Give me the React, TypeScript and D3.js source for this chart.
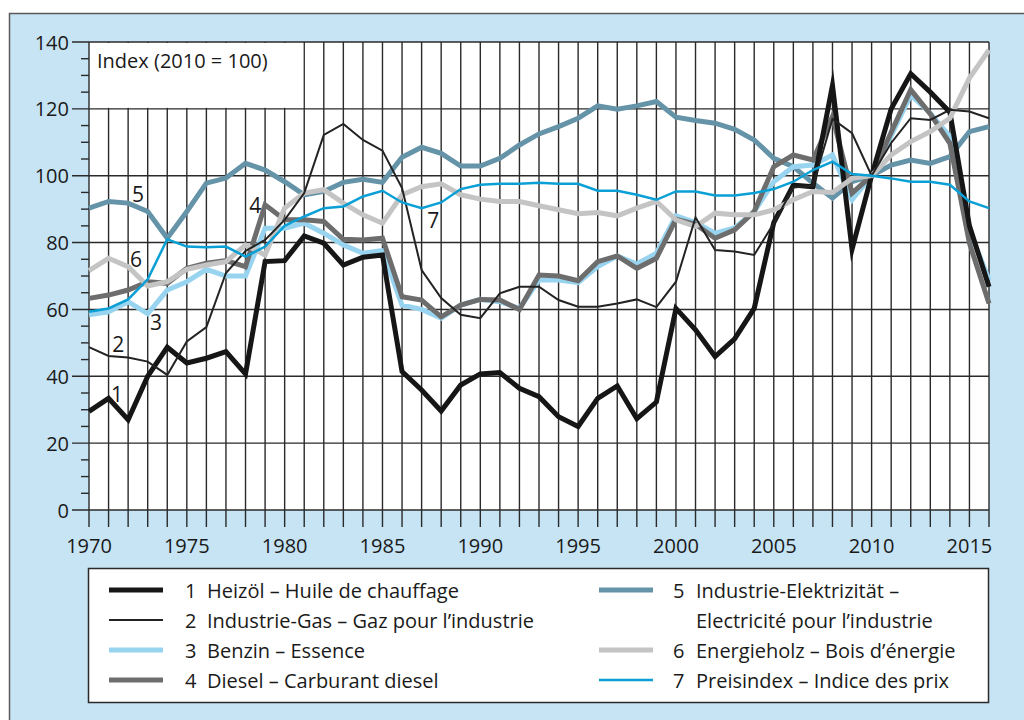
import React from "react";
import * as d3 from "d3";

const years: number[] = d3.range(1970, 2017);

// 1 Heizöl
const heizoel: number[] = [
  29.5, 33.4, 27, 40, 48.7, 44, 45.4, 47.4, 40.7, 74.3,
  74.6, 82, 79.8, 73.3, 75.6, 76.3, 41.4, 35.9, 29.6, 37.4,
  40.7, 41.1, 36.4, 33.9, 27.9, 25, 33.4, 37.1, 27.3, 32.3,
  60.3, 53.9, 45.9, 51.2, 60.3, 86, 97.2, 96.7, 127, 78,
  100, 120, 130.5, 125, 119, 85, 66.8,
];
// 2 Industrie-Gas
const industrieGas: number[] = [
  48.7, 46.1, 45.6, 44.4, 40.4, 50.4, 54.7, 70.9, 77.5, 80.8,
  86.8, 94.8, 112.2, 115.5, 110.7, 107.5, 96.3, 71.8, 63.4, 58.4,
  57.4, 64.8, 66.8, 66.8, 62.8, 60.8, 60.8, 61.8, 63, 60.7,
  68.3, 87.5, 77.8, 77.3, 76.3, 85.8, 96.5, 97, 117, 112.7,
  100, 109.8, 117.2, 116.7, 119.7, 119.2, 117.2,
];
// 3 Benzin
const benzin: number[] = [
  58.4, 59.3, 62.3, 58.7, 65.8, 68.3, 72, 70, 70, 84.3,
  84.3, 85.8, 82.8, 79.3, 76.8, 77.6, 61.3, 60, 57.4, 61.3,
  63, 62.3, 60.3, 68.8, 68.8, 68, 72.8, 76, 73.6, 76.8,
  88, 86, 82.8, 84.4, 89.3, 98.2, 102.7, 103.2, 106.2, 92.8,
  100, 112, 124.2, 118.7, 111.7, 83.8, 68.8,
];
// 4 Diesel
const diesel: number[] = [
  63.3, 64.3, 65.8, 68.3, 67.8, 72.3, 73.8, 74.6, 72.8, 91.3,
  86.8, 86.8, 86.3, 81, 80.8, 81.3, 63.8, 62.8, 57.8, 61.3,
  63, 62.8, 60, 70.3, 70, 68.6, 74.3, 76, 72.3, 75.3,
  87, 85.5, 81.3, 83.8, 89.3, 102.7, 106.2, 104.7, 117.7, 94.8,
  100, 113, 125.7, 118.5, 109.7, 79.8, 61.8,
];
// 5 Industrie-Elektrizität
const elektrizitaet: number[] = [
  90.3, 92.3, 91.8, 89.3, 81.3, 89.3, 97.8, 99.3, 103.7, 101.7,
  98.2, 94.3, 95.3, 98, 98.9, 98, 105.5, 108.5, 106.7, 102.9,
  102.9, 105.2, 109.2, 112.5, 114.7, 117.2, 120.9, 119.9, 120.9, 122.2,
  117.5, 116.5, 115.7, 113.9, 110.7, 105.2, 102.7, 97.8, 93.3, 98.2,
  100, 103.2, 104.7, 103.7, 105.7, 113.2, 114.7,
];
// 6 Energieholz
const energieholz: number[] = [
  71.6, 75.3, 72.8, 67, 68.3, 72, 73.3, 74.3, 79.3, 76.3,
  90.3, 94.8, 95.8, 91.8, 88.3, 85.8, 94.3, 96.7, 97.6, 94.3,
  93, 92.3, 92.3, 91, 89.8, 88.6, 89, 88, 90.3, 92.3,
  86.8, 84.8, 88.8, 88.3, 88.3, 89.8, 92.8, 95.3, 95, 99.2,
  100, 106.2, 110.2, 113.2, 117.2, 129.2, 137.6,
];
// 7 Preisindex
const preisindex: number[] = [
  59.3, 60.3, 63, 69, 81, 78.8, 78.6, 78.8, 75.8, 78.8,
  85, 87.8, 90.3, 90.8, 93.8, 95.5, 92, 90.3, 92, 96,
  97.3, 97.6, 97.6, 97.9, 97.6, 97.6, 95.5, 95.5, 94.3, 92.8,
  95.3, 95.3, 94.1, 94.1, 94.8, 96, 98.2, 101.7, 104.2, 100.5,
  100, 99.2, 98.2, 98.2, 97.3, 92.3, 90.3,
];

const yTicks: number[] = [0, 20, 40, 60, 80, 100, 120, 140];
const xTickLabels: number[] = [1970, 1975, 1980, 1985, 1990, 1995, 2000, 2005, 2010, 2015];

const legendLeft = [
  { num: "1", label: "Heizöl – Huile de chauffage", key: "s1" },
  { num: "2", label: "Industrie-Gas – Gaz pour l’industrie", key: "s2" },
  { num: "3", label: "Benzin – Essence", key: "s3" },
  { num: "4", label: "Diesel – Carburant diesel", key: "s4" },
];
const legendRight = [
  { num: "5", label: "Industrie-Elektrizität –", label2: "Electricité pour l’industrie", key: "s5" },
  { num: "6", label: "Energieholz – Bois d’énergie", key: "s6" },
  { num: "7", label: "Preisindex – Indice des prix", key: "s7" },
];

const styles: Record<string, { color: string; width: number }> = {
  s1: { color: "#161616", width: 5 },
  s2: { color: "#232323", width: 2 },
  s3: { color: "#98d4ef", width: 5 },
  s4: { color: "#6d6d6d", width: 5 },
  s5: { color: "#6593a8", width: 5 },
  s6: { color: "#c4c4c4", width: 5 },
  s7: { color: "#0aa0d6", width: 2.5 },
};

const seriesData: Record<string, number[]> = {
  s1: heizoel,
  s2: industrieGas,
  s3: benzin,
  s4: diesel,
  s5: elektrizitaet,
  s6: energieholz,
  s7: preisindex,
};

const drawOrder = ["s5", "s3", "s4", "s1", "s6", "s2", "s7"];

const inlineLabels = [
  { t: "1", year: 1971.43, v: 34.7 },
  { t: "2", year: 1971.5, v: 49.7 },
  { t: "3", year: 1973.43, v: 56.2 },
  { t: "4", year: 1978.5, v: 91.1 },
  { t: "5", year: 1972.5, v: 94.5 },
  { t: "6", year: 1972.4, v: 75 },
  { t: "7", year: 1987.6, v: 86.9 },
];

const FONT = "'Open Sans', 'Noto Sans', sans-serif";
const TEXT = "#1a1a1a";
const BG = "#c6e4f4";

export default function App() {
  const left = 89;
  const right = 989;
  const top = 42;
  const bottom = 510;

  const x = d3.scaleLinear().domain([1970, 2016]).range([left, right]);
  const y = d3.scaleLinear().domain([0, 140]).range([bottom, top]);

  const line = d3
    .line<number>()
    .x((_, i) => x(years[i]))
    .y((d) => y(d))
    .curve(d3.curveLinear);

  const minorY = d3.range(0, 141, 5);

  return (
    <svg
      width={1024}
      height={720}
      style={{ position: "absolute", left: 0, top: 0 }}
      fontFamily={FONT}
    >
      <rect x={0} y={0} width={1024} height={720} fill="#ffffff" />
      <rect x={9.5} y={13.5} width={1030} height={720} fill={BG} stroke="#5a5a5a" strokeWidth={1.5} />

      {/* plot area */}
      <rect x={left} y={top} width={right - left} height={bottom - top} fill="#ffffff" />

      {/* vertical grid lines per year */}
      {years.map((yr) => (
        <line
          key={"vg" + yr}
          x1={x(yr)}
          x2={x(yr)}
          y1={top}
          y2={bottom + 17}
          stroke="#2a2a2a"
          strokeWidth={1.4}
        />
      ))}
      {/* horizontal grid lines */}
      {yTicks.map((t) => (
        <line
          key={"hg" + t}
          x1={left - 17}
          x2={right}
          y1={y(t)}
          y2={y(t)}
          stroke="#2a2a2a"
          strokeWidth={1.4}
        />
      ))}
      {/* minor y ticks */}
      {minorY
        .filter((t) => t % 20 !== 0)
        .map((t) => (
          <line key={"my" + t} x1={left - 8} x2={left} y1={y(t)} y2={y(t)} stroke="#2a2a2a" strokeWidth={1.4} />
        ))}

      {/* index label box */}
      <rect
        x={left + 1}
        y={top + 1}
        width={x(1981) - left - 2}
        height={y(120) - top - 2}
        fill="#ffffff"
      />
      <text x={97} y={60} fontSize={20} fill={TEXT} dominantBaseline="central">
        Index (2010 = 100)
      </text>

      {/* series */}
      {drawOrder.map((k) => (
        <path
          key={k}
          d={line(seriesData[k]) || ""}
          fill="none"
          stroke={styles[k].color}
          strokeWidth={styles[k].width}
          strokeLinejoin="miter"
          strokeMiterlimit={10}
        />
      ))}

      {/* inline labels */}
      {inlineLabels.map((l) => (
        <text
          key={"il" + l.t}
          x={x(l.year)}
          y={y(l.v)}
          fontSize={21}
          fill={TEXT}
          textAnchor="middle"
          dominantBaseline="central"
        >
          {l.t}
        </text>
      ))}

      {/* y tick labels */}
      {yTicks.map((t) => (
        <text
          key={"yl" + t}
          x={69}
          y={y(t)}
          fontSize={20}
          fill={TEXT}
          textAnchor="end"
          dominantBaseline="central"
        >
          {t}
        </text>
      ))}
      {/* x tick labels */}
      {xTickLabels.map((t) => (
        <text
          key={"xl" + t}
          x={x(t)}
          y={545}
          fontSize={20}
          fill={TEXT}
          textAnchor="middle"
          dominantBaseline="central"
        >
          {t}
        </text>
      ))}

      {/* legend */}
      <rect x={88.5} y={568.5} width={900} height={134} fill="#ffffff" stroke="#2a2a2a" strokeWidth={1.5} />
      {legendLeft.map((e, i) => {
        const cy = 590 + i * 30;
        return (
          <g key={"ll" + e.key}>
            <line x1={109} x2={163} y1={cy} y2={cy} stroke={styles[e.key].color} strokeWidth={styles[e.key].width} />
            <text x={185} y={cy} fontSize={20} fill={TEXT} dominantBaseline="central">
              {e.num}
            </text>
            <text x={207} y={cy} fontSize={20} fill={TEXT} dominantBaseline="central">
              {e.label}
            </text>
          </g>
        );
      })}
      {legendRight.map((e, i) => {
        const row = i === 0 ? 0 : i + 1;
        const cy = 590 + row * 30;
        return (
          <g key={"lr" + e.key}>
            <line x1={599} x2={653} y1={cy} y2={cy} stroke={styles[e.key].color} strokeWidth={styles[e.key].width} />
            <text x={673} y={cy} fontSize={20} fill={TEXT} dominantBaseline="central">
              {e.num}
            </text>
            <text x={696} y={cy} fontSize={20} fill={TEXT} dominantBaseline="central">
              {e.label}
            </text>
            {e.label2 ? (
              <text x={696} y={cy + 30} fontSize={20} fill={TEXT} dominantBaseline="central">
                {e.label2}
              </text>
            ) : null}
          </g>
        );
      })}
    </svg>
  );
}
